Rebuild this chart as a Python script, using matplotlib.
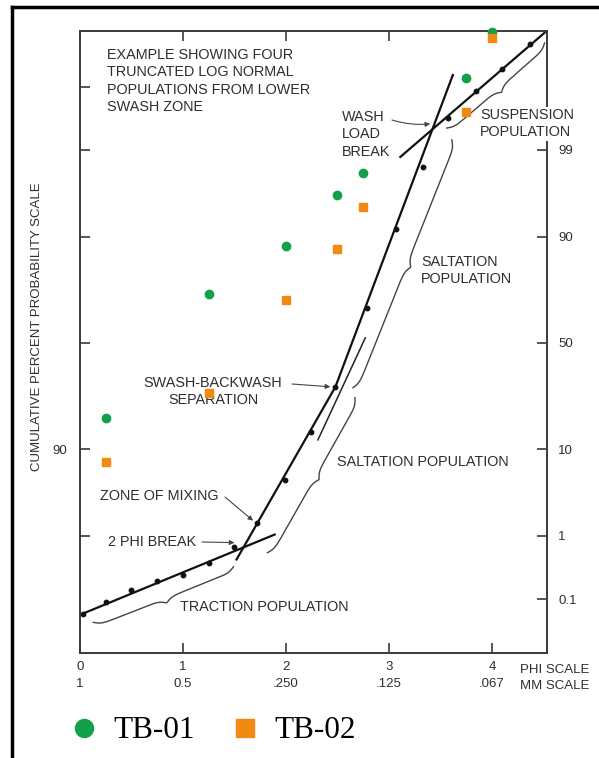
import numpy as np
import matplotlib
matplotlib.use('Agg')
import matplotlib.pyplot as plt
from matplotlib.lines import Line2D
from matplotlib.transforms import IdentityTransform
from statistics import NormalDist

plt.rcParams['font.family'] = ['Liberation Sans', 'DejaVu Sans']

# ---- data (phi size, cumulative percent) ----
phi_curve = [0.03, 0.25, 0.5, 0.75, 1.0, 1.25, 1.5, 1.72, 1.99, 2.24, 2.48,
             2.79, 3.07, 3.33, 3.57, 3.84, 4.1, 4.37]
pct_curve = [0.054, 0.09, 0.146, 0.206, 0.256, 0.40, 0.68, 1.5, 4.9, 14, 29.8,
             66.3, 91.5, 98.3, 99.66, 99.88, 99.952, 99.984]

# fitted population lines
traction_phi, traction_pct = [0.0, 1.89], [0.052, 1.04]
salt_lo_phi, salt_lo_pct = [1.52, 2.48], [0.45, 29.8]
cross_phi, cross_pct = [2.31, 2.77], [12.1, 52.4]
salt_hi_phi, salt_hi_pct = [2.48, 3.62], [29.8, 99.938]
susp_phi, susp_pct = [3.11, 4.53], [98.75, 99.9915]

# samples
sample_phi = [0.25, 1.25, 2.0, 2.5, 2.75, 3.75, 4.0]
tb01_pct = [18.3, 72.2, 87.9, 96.3, 98.0, 99.93, 99.991]
tb02_pct = [7.6, 27.4, 69.8, 87.1, 94.9, 99.73, 99.988]

phi_ticks = [0, 1, 2, 3, 4]
mm_labels = ['1', '0.5', '.250', '.125', '.067']
right_ticks = [0.1, 1, 10, 50, 90, 99]
left_ticks = [1, 10, 50, 90, 99, 99.9]

GREEN = '#12a04a'
ORANGE = '#f28a12'
INK = '#2e2e2e'

nd = NormalDist()


def to_z(p):
    p = np.clip(np.asarray(p, float), 1e-9, 100 - 1e-9)
    return np.vectorize(lambda v: nd.inv_cdf(v / 100.0), otypes=[float])(p)


def to_pct(z):
    z = np.asarray(z, float)
    return np.vectorize(lambda v: 100.0 * nd.cdf(v), otypes=[float])(z)


def frac(x, y):
    # reference pixel -> axes fraction
    return ((x - 80) / 467, (653 - y) / 622)


fig = plt.figure(figsize=(5.99, 7.58), dpi=100)
ax = fig.add_axes([80 / 599, 105 / 758, 467 / 599, 622 / 758])
ax.set_yscale('function', functions=(to_z, to_pct))
ylim = (float(to_pct(-3.74)), float(to_pct(3.76)))
ax.set_xlim(0, 4.534)
ax.set_ylim(*ylim)

for s in ax.spines.values():
    s.set_color('#3a3a3a')
    s.set_linewidth(1.4)

# lines
ax.plot(traction_phi, traction_pct, color='#111', lw=1.6)
ax.plot(salt_lo_phi, salt_lo_pct, color='#111', lw=1.6)
ax.plot(cross_phi, cross_pct, color='#222', lw=1.1)
ax.plot(salt_hi_phi, salt_hi_pct, color='#111', lw=1.6)
ax.plot(susp_phi, susp_pct, color='#111', lw=1.6)
ax.plot(phi_curve, pct_curve, 'o', color='#111', ms=3.2, ls='none')

ax.plot(sample_phi, tb01_pct, 'o', color=GREEN, ms=6, ls='none', clip_on=False, zorder=4)
ax.plot(sample_phi, tb02_pct, 's', color=ORANGE, ms=5.5, ls='none', clip_on=False, zorder=4)

# ticks
ax.set_xticks(phi_ticks)
ax.set_xticklabels(['%d\n%s' % (p, m) for p, m in zip(phi_ticks, mm_labels)],
                   linespacing=1.55)
ax.tick_params(axis='x', direction='in', top=True, length=7, width=1.2,
               color='#3a3a3a', labelcolor=INK, labelsize=9.5, pad=6)
ax.set_yticks(left_ticks)
ax.set_yticklabels(['90' if t == 10 else '' for t in left_ticks])
ax.yaxis.set_minor_locator(matplotlib.ticker.NullLocator())
ax.tick_params(axis='y', direction='in', length=7, width=1.2, color='#3a3a3a',
               labelcolor=INK, labelsize=9.5, pad=9)

ax2 = ax.twinx()
ax2.set_yscale('function', functions=(to_z, to_pct))
ax2.set_ylim(*ylim)
for s in ax2.spines.values():
    s.set_visible(False)
ax2.set_yticks(right_ticks)
ax2.set_yticklabels(['0.1', '1', '10', '50', '90', '99'])
ax2.yaxis.set_minor_locator(matplotlib.ticker.NullLocator())
ax2.tick_params(axis='y', direction='in', length=7, width=1.2, color='#3a3a3a',
                labelcolor=INK, labelsize=9.5, pad=8)
ax.set_xlim(0, 4.534)

fig.text(520 / 599, 1 - 678 / 758, 'PHI SCALE\nMM SCALE', fontsize=9.5,
         color=INK, va='center', ha='left', linespacing=1.55)
fig.text(37 / 599, 1 - 327 / 758, 'CUMULATIVE PERCENT PROBABILITY SCALE',
         rotation=90, fontsize=9.5, color=INK, ha='center', va='center')

# annotations
tkw = dict(transform=ax.transAxes, fontsize=10.4, color=INK, linespacing=1.3)
ax.text(*frac(107, 48), 'EXAMPLE SHOWING FOUR\nTRUNCATED LOG NORMAL\n'
        'POPULATIONS FROM LOWER\nSWASH ZONE', va='top', ha='left', **tkw)
ax.text(*frac(342, 110), 'WASH\nLOAD\nBREAK', va='top', ha='left', **tkw)
ax.text(*frac(480, 108), 'SUSPENSION\nPOPULATION', va='top', ha='left',
        bbox=dict(facecolor='white', edgecolor='none', pad=1), zorder=5, **tkw)
ax.text(*frac(421, 255), 'SALTATION\nPOPULATION', va='top', ha='left', **tkw)
ax.text(*frac(213, 376), 'SWASH-BACKWASH\nSEPARATION', va='top', ha='center', **tkw)
ax.text(*frac(337, 462), 'SALTATION POPULATION', va='center', ha='left', **tkw)
ax.text(*frac(100, 496), 'ZONE OF MIXING', va='center', ha='left', **tkw)
ax.text(*frac(108, 542), '2 PHI BREAK', va='center', ha='left', **tkw)
ax.text(*frac(180, 607), 'TRACTION POPULATION', va='center', ha='left', **tkw)

akw = dict(arrowstyle='-|>', color='#444', lw=0.8, mutation_scale=7,
           shrinkA=0, shrinkB=0)
ax.annotate('', xy=(3.40, 99.585), xytext=frac(392, 120), textcoords='axes fraction',
            arrowprops=dict(connectionstyle='arc3,rad=0.1', **akw))
ax.annotate('', xy=(2.43, 29.8), xytext=frac(292, 384), textcoords='axes fraction',
            arrowprops=akw)
ax.annotate('', xy=(1.68, 1.6), xytext=frac(225, 497), textcoords='axes fraction',
            arrowprops=akw)
ax.annotate('', xy=(1.50, 0.80), xytext=frac(202, 542), textcoords='axes fraction',
            arrowprops=akw)


# curly braces along the populations
def brace(p0, p1, w=9, beta=0.28):
    a = ax.transData.transform(p0)
    b = ax.transData.transform(p1)
    d = b - a
    L = np.hypot(*d)
    u = d / L
    n = np.array([u[1], -u[0]])
    h = L / 2
    s = np.linspace(0, h, 80)
    half = 1 / (1 + np.exp(-beta * s)) + 1 / (1 + np.exp(-beta * (s - h))) - 0.5
    t = np.concatenate([s, L - s[::-1]])
    v = w * np.concatenate([half, half[::-1]])
    pts = a + np.outer(t, u) + np.outer(v, n)
    ax.add_line(Line2D(pts[:, 0], pts[:, 1], transform=IdentityTransform(),
                       color='#444', lw=1.0))


brace((0.13, 0.0375), (1.49, 0.347))
brace((1.82, 0.57), (2.67, 25.4))
brace((2.65, 29.4), (3.61, 99.28))
brace((3.56, 99.52), (4.51, 99.985))

# legend
handles = [Line2D([], [], marker='o', color=GREEN, ls='none', ms=13),
           Line2D([], [], marker='s', color=ORANGE, ls='none', ms=13)]
fig.legend(handles, ['TB-01', 'TB-02'], loc='center left',
           bbox_to_anchor=(71 / 599, 1 - 731 / 758), ncol=2, frameon=False,
           borderpad=0, borderaxespad=0, handlelength=0.8, handletextpad=0.55,
           columnspacing=1.2, prop={'family': 'Liberation Serif', 'size': 22.5})

# page border (top and left)
fig.add_artist(Line2D([12 / 599, 12 / 599], [0, 1 - 7 / 758], color='black', lw=2.5,
                      transform=fig.transFigure))
fig.add_artist(Line2D([12 / 599, 1], [1 - 7 / 758, 1 - 7 / 758], color='black', lw=2.5,
                      transform=fig.transFigure))

fig.savefig('out.png', dpi=100)
